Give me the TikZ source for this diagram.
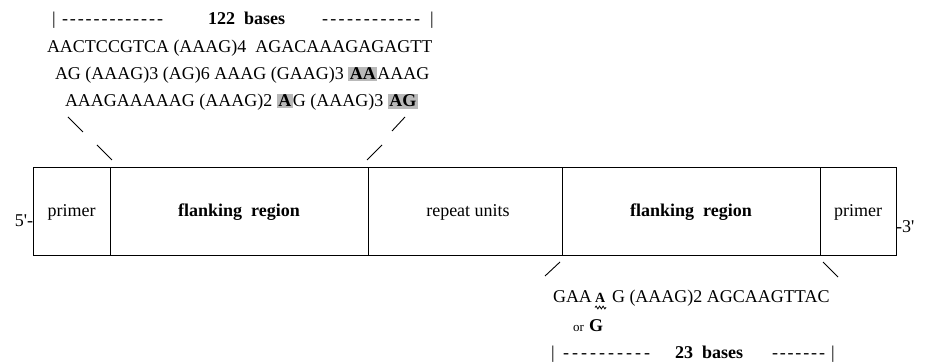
\documentclass[tikz,border=0pt]{standalone}
\usepackage{fontspec}
\setmainfont{Liberation Serif}
\usetikzlibrary{decorations.pathmorphing}
\newcommand\dashrun[2]{\makebox[#1][l]{-\foreach\k in {2,...,#2}{\hfill-}}}
\newcommand\hl[1]{{\setlength{\fboxsep}{1.5pt}\colorbox{gray!55}{\textbf{#1}}}}
\begin{document}
\begin{tikzpicture}[x=1pt,y=-1pt,
  every node/.style={inner sep=0pt,outer sep=0pt,font=\fontsize{18}{20}\selectfont},
  region/.style={draw,line width=1pt,minimum height=88pt,anchor=center},
  seq/.style={anchor=base west},
  zoomline/.style={line width=0.9pt}]
\useasboundingbox (0,0) rectangle (929,363);
\fill[white] (0,0) rectangle (929,363);
% DNA bar
\node[region,minimum width=77pt]  (p1) at (71.5,212) {primer};
\node[region,minimum width=258pt] (f1) at (239,212) {\textbf{flanking\ \ region}};
\node[region,minimum width=194pt] (rp) at (465,212) {\hspace*{6pt}repeat units};
\node[region,minimum width=258pt] (f2) at (691,212) {\textbf{flanking\ \ region}};
\node[region,minimum width=76pt]  (p2) at (858,212) {primer};
\node[anchor=base east] (five) at (p1.west |- 0,227) {5\textquotesingle-};
\node[anchor=base west] (three) at (p2.east |- 0,233) {-3\textquotesingle};
% top sequence
\node[seq] (tbarL) at (52,25) {|};
\node[seq] (tdashL) at (62,25) {\dashrun{101pt}{13}};
\node[seq] (tlab) at (208,25) {\textbf{122\ \ bases}};
\node[seq] (tdashR) at (322,25) {\dashrun{98pt}{12}};
\node[seq] (tbarR) at (430,25) {|};
\node[seq] (l1) at (47,53) {AACTCCGTCA (AAAG)4\ \ AGACAAAGAGAGTT};
\node[seq] (l2) at (55,80) {AG (AAAG)3 (AG)6 AAAG (GAAG)3 \hl{AA}AAAG};
\node[seq] (l3) at (65,107) {AAAGAAAAAG (AAAG)2 \hl{A}G (AAAG)3 \hl{AG}};
% zoom lines top
\coordinate (a1) at (68,117); \coordinate (a2) at (83,132);
\coordinate (a3) at (97,145); \coordinate (a4) at (112,160);
\coordinate (b1) at (405,117); \coordinate (b2) at (392,131);
\coordinate (b3) at (382,145); \coordinate (b4) at (367,160);
\draw[zoomline] (a1) -- (a2);
\draw[zoomline] (a3) -- (a4);
\draw[zoomline] (b1) -- (b2);
\draw[zoomline] (b3) -- (b4);
% zoom lines bottom
\coordinate (c1) at (560,262); \coordinate (c2) at (545,276);
\coordinate (d1) at (823,262); \coordinate (d2) at (838,277);
\draw[zoomline] (c1) -- (c2);
\draw[zoomline] (d1) -- (d2);
% bottom sequence
\node[seq] (gaa) at (553,303) {GAA};
\node[seq,font=\fontsize{14}{16}\selectfont\bfseries] (varA) at (595,303) {A};
\draw[line width=0.8pt,decorate,decoration={snake,amplitude=1.4pt,segment length=3.5pt}]
  ([yshift=-4.5pt]varA.base west) -- ([yshift=-4.5pt,xshift=1pt]varA.base east);
\node[seq] (rest) at (612,303) {G (AAAG)2 AGCAAGTTAC};
\node[seq,font=\fontsize{13}{15}\selectfont] (or) at (573,331) {or};
\node[seq] (altG) at (589,331) {\textbf{G}};
\node[seq] (bbarL) at (551,359) {|};
\node[seq] (bdashL) at (563,359) {\dashrun{87pt}{10}};
\node[seq] (blab) at (675,359) {\textbf{23\ \ bases}};
\node[seq] (bdashR) at (772,359) {\dashrun{53pt}{7}};
\node[seq] (bbarR) at (831,359) {|};
\end{tikzpicture}
\end{document}
